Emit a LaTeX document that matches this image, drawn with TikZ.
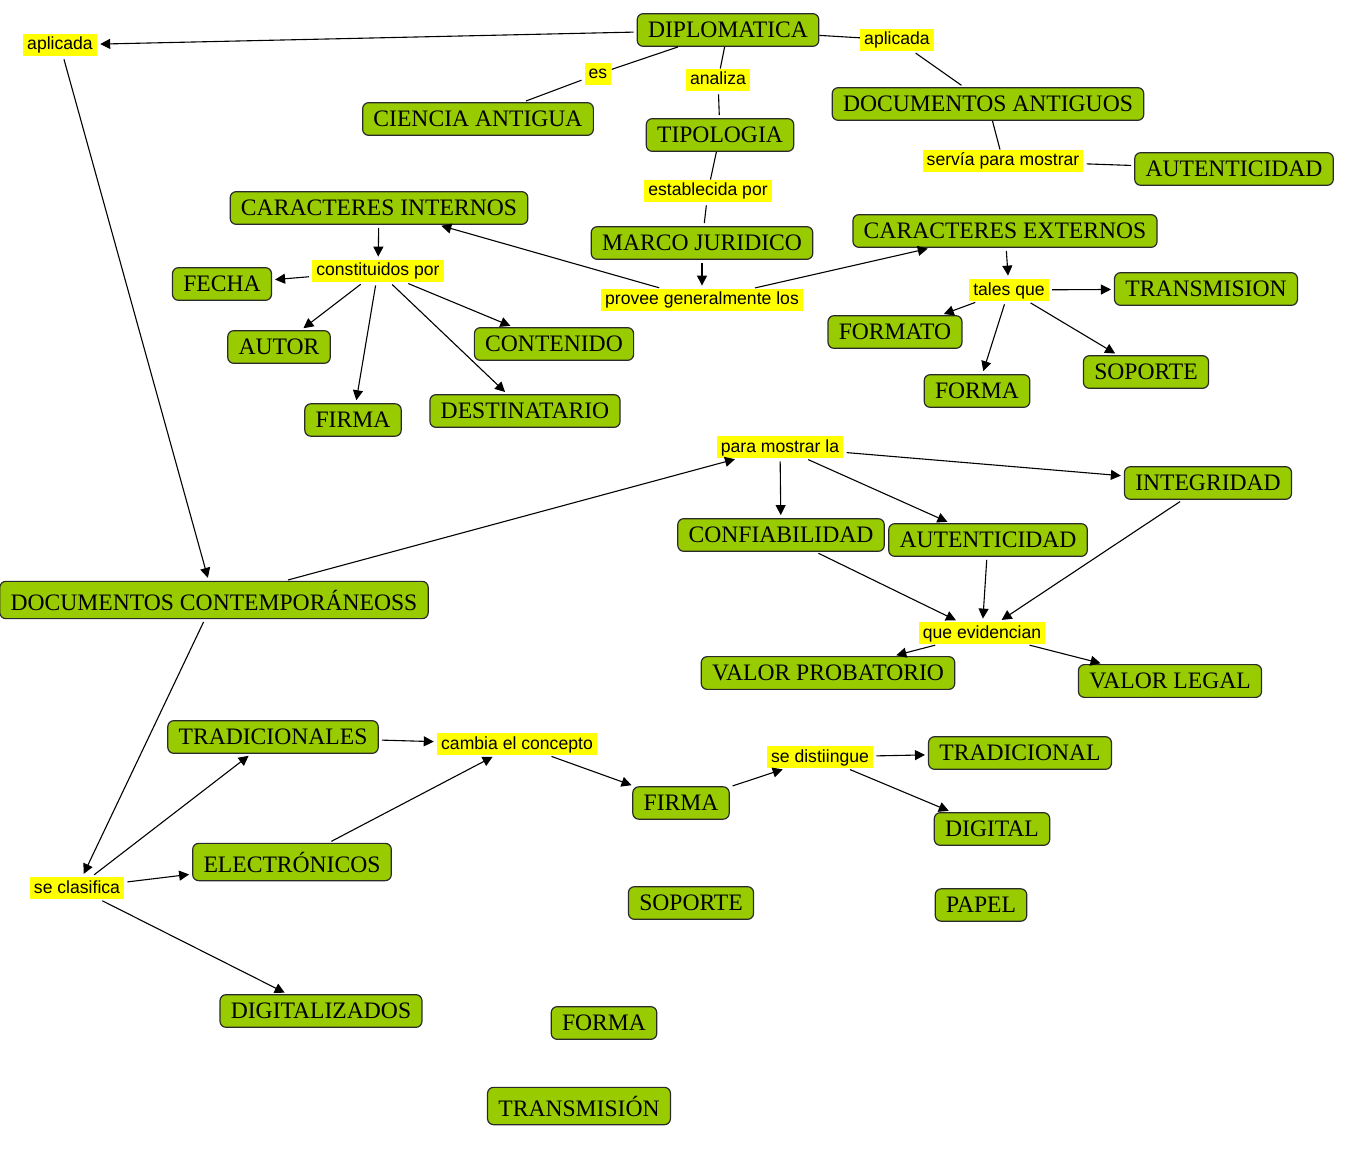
\documentclass[tikz,border=0pt]{standalone}
\usepackage{fontspec}
\setmainfont{Liberation Serif}
\newfontfamily\linkfont{Liberation Sans}
\usepackage{tikz}
\usetikzlibrary{arrows.meta}
\usepackage{xcolor}
\definecolor{CmapGreen}{HTML}{99CC00}
\definecolor{CmapYellow}{HTML}{FFFF00}
\definecolor{CmapEdge}{HTML}{2A2A2A}

\begin{document}
\begin{tikzpicture}[x=0.5pt,y=-0.5pt,
  concept/.style={draw=CmapEdge,fill=CmapGreen,rounded corners=3pt,line width=0.6pt,
    inner xsep=5.4pt,inner ysep=4.2pt,font=\fontsize{11.8}{14}\selectfont},
  phrase/.style={fill=CmapYellow,inner xsep=2pt,inner ysep=1pt,text height=7pt,
    text depth=2pt,font=\linkfont\fontsize{8.8}{10}\selectfont},
  relation/.style={line width=0.55pt,shorten <=1.5pt,shorten >=1.5pt},
  relarrow/.style={relation,-{Triangle[length=5pt,width=5pt]}}]
  \useasboundingbox (0,0) rectangle (1370,1166);

  % concepts
  \node[concept] (diplomatica) at (728,30) {DIPLOMATICA};
  \node[concept] (ciencia) at (478,119) {CIENCIA ANTIGUA};
  \node[concept] (tipologia) at (720,135) {TIPOLOGIA};
  \node[concept] (docAntiguos) at (988,104) {DOCUMENTOS ANTIGUOS};
  \node[concept] (autenticidadA) at (1234,169) {AUTENTICIDAD};
  \node[concept] (internos) at (379,208) {CARACTERES INTERNOS};
  \node[concept] (marco) at (702,243) {MARCO JURIDICO};
  \node[concept] (externos) at (1005,231) {CARACTERES EXTERNOS};
  \node[concept] (fecha) at (222,284) {FECHA};
  \node[concept] (autor) at (279,347) {AUTOR};
  \node[concept] (contenido) at (554,344) {CONTENIDO};
  \node[concept] (firmaA) at (353,420) {FIRMA};
  \node[concept] (destinatario) at (525,411) {DESTINATARIO};
  \node[concept] (transmisionA) at (1206,289) {TRANSMISION};
  \node[concept] (formato) at (895,332) {FORMATO};
  \node[concept] (formaA) at (977,391) {FORMA};
  \node[concept] (soporteA) at (1146,372) {SOPORTE};
  \node[concept] (integridad) at (1208,483) {INTEGRIDAD};
  \node[concept] (confiabilidad) at (781,535) {CONFIABILIDAD};
  \node[concept] (autenticidadB) at (988,540) {AUTENTICIDAD};
  \node[concept] (docContemp) at (214,600) {DOCUMENTOS CONTEMPORÁNEOSS};
  \node[concept] (probatorio) at (828,673) {VALOR PROBATORIO};
  \node[concept] (legal) at (1170,681) {VALOR LEGAL};
  \node[concept] (tradicionales) at (273,737) {TRADICIONALES};
  \node[concept] (electronicos) at (292,862) {ELECTRÓNICOS};
  \node[concept] (firmaB) at (681,803) {FIRMA};
  \node[concept] (tradicional) at (1020,753) {TRADICIONAL};
  \node[concept] (digital) at (992,829) {DIGITAL};
  \node[concept] (soporteB) at (691,903) {SOPORTE};
  \node[concept] (papel) at (981,905) {PAPEL};
  \node[concept] (digitalizados) at (321,1011) {DIGITALIZADOS};
  \node[concept] (formaB) at (604,1023) {FORMA};
  \node[concept] (transmisionB) at (579,1106) {TRANSMISIÓN};

  % linking phrases
  \node[phrase] (aplicadaIzq) at (60,45) {aplicada};
  \node[phrase] (es) at (598,74) {es};
  \node[phrase] (analiza) at (718,80) {analiza};
  \node[phrase] (aplicadaDer) at (897,40) {aplicada};
  \node[phrase] (servia) at (1003,161) {servía para mostrar};
  \node[phrase] (establecida) at (708,191) {establecida por};
  \node[phrase] (constituidos) at (378,271) {constituidos por};
  \node[phrase] (provee) at (702,300) {provee generalmente los};
  \node[phrase] (tales) at (1009,290) {tales que};
  \node[phrase] (paraMostrar) at (780,447) {para mostrar la};
  \node[phrase] (evidencian) at (982,633) {que evidencian};
  \node[phrase] (cambia) at (517,744) {cambia el concepto};
  \node[phrase] (distingue) at (820,757) {se distiingue};
  \node[phrase] (clasifica) at (77,888) {se clasifica};

  \draw[relation] (diplomatica) -- (es) (es) -- (ciencia);
  \draw[relation] (diplomatica) -- (analiza) (analiza) -- (tipologia);
  \draw[relation] (diplomatica) -- (aplicadaDer) (aplicadaDer) -- (docAntiguos);
  \draw[relation] (docAntiguos) -- (servia) (servia) -- (autenticidadA);
  \draw[relation] (tipologia) -- (establecida) (establecida) -- (marco);
  \draw[relarrow] (diplomatica) -- (aplicadaIzq);
  \draw[relarrow] (aplicadaIzq) -- (docContemp);

  \draw[relarrow] (marco) -- (provee);
  \draw[relarrow] (provee) -- (internos);
  \draw[relarrow] (provee) -- (externos);
  \draw[relarrow] (internos) -- (constituidos);
  \draw[relarrow] (constituidos) -- (fecha);
  \draw[relarrow] (constituidos) -- (autor);
  \draw[relarrow] (constituidos) -- (firmaA);
  \draw[relarrow] (constituidos) -- (destinatario);
  \draw[relarrow] (constituidos) -- (contenido);
  \draw[relarrow] (externos) -- (tales);
  \draw[relarrow] (tales) -- (formato);
  \draw[relarrow] (tales) -- (formaA);
  \draw[relarrow] (tales) -- (soporteA);
  \draw[relarrow] (tales) -- (transmisionA);

  \draw[relarrow] (docContemp) -- (paraMostrar);
  \draw[relarrow] (paraMostrar) -- (confiabilidad);
  \draw[relarrow] (paraMostrar) -- (autenticidadB);
  \draw[relarrow] (paraMostrar) -- (integridad);
  \draw[relarrow] (confiabilidad) -- (evidencian);
  \draw[relarrow] (autenticidadB) -- (evidencian);
  \draw[relarrow] (integridad) -- (evidencian);
  \draw[relarrow] (evidencian) -- (probatorio);
  \draw[relarrow] (evidencian) -- (legal);

  \draw[relarrow] (docContemp) -- (clasifica);
  \draw[relarrow] (clasifica) -- (tradicionales);
  \draw[relarrow] (clasifica) -- (electronicos);
  \draw[relarrow] (clasifica) -- (digitalizados);
  \draw[relarrow] (tradicionales) -- (cambia);
  \draw[relarrow] (electronicos) -- (cambia);
  \draw[relarrow] (cambia) -- (firmaB);
  \draw[relarrow] (firmaB) -- (distingue);
  \draw[relarrow] (distingue) -- (tradicional);
  \draw[relarrow] (distingue) -- (digital);
\end{tikzpicture}
\end{document}
